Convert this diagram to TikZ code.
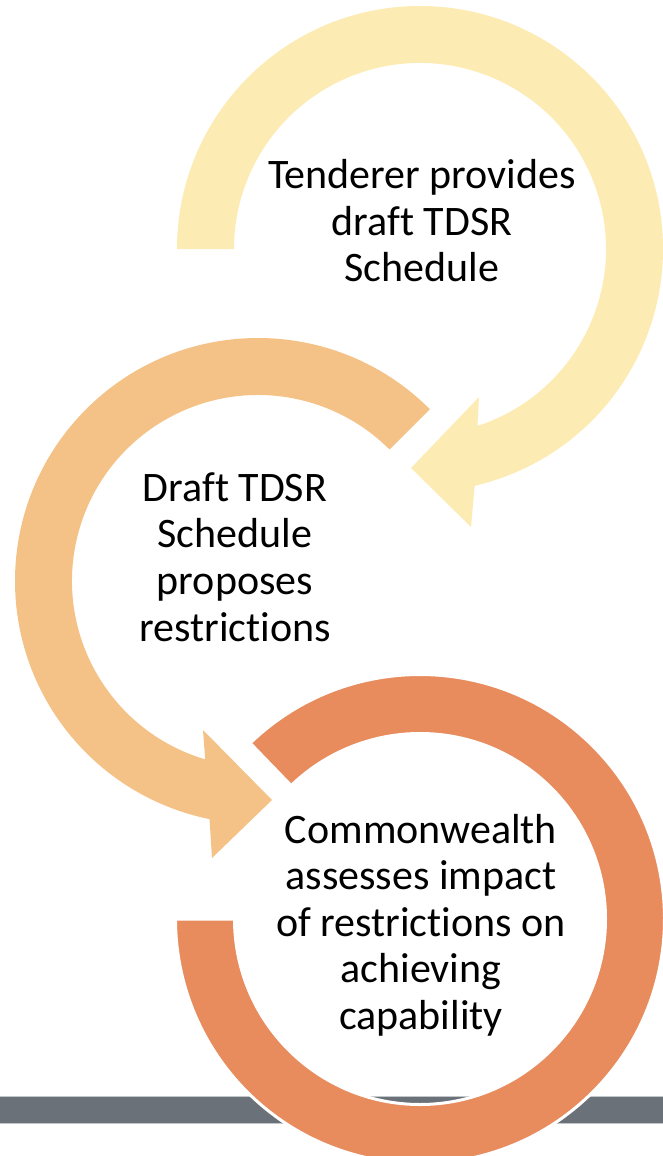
\documentclass[tikz,border=0pt]{standalone}
\usepackage{fontspec}
\setmainfont{Carlito}[Ligatures=NoCommon]
\usepackage{tikz}
\definecolor{stepYellow}{RGB}{253, 235, 180}
\definecolor{stepOrange}{RGB}{244, 194, 135}
\definecolor{stepRust}{RGB}{232, 140, 94}
\definecolor{barGrey}{RGB}{107, 113, 121}
\definecolor{barEdge}{RGB}{196, 199, 202}

\begin{document}
\begin{tikzpicture}[x=1pt, y=1pt,
    steptext/.style={align=center, font=\fontsize{42}{46.5}\selectfont, inner sep=0pt}]
            \useasboundingbox (0,0) rectangle (663,-1156);
            \coordinate (Y) at (420,-249);
            \coordinate (O) at (258,-581);
            \coordinate (R) at (420,-919);

            % grey bar behind the last ring
            \fill[barGrey] (0,-1097) rectangle (663,-1123);
            \draw[barEdge, line width=1] (0,-1096.5) -- (663,-1096.5) (0,-1123.5) -- (663,-1123.5);

            \fill[stepYellow] ([shift={(180:243)}]Y) arc[start angle=180, end angle=-77, radius=243]
                -- (471,-527) -- (411,-468) -- (479,-397)
                -- ([shift={(-72:186)}]Y) arc[start angle=-72, end angle=180, radius=186] -- cycle;
            \fill[stepOrange] ([shift={(45:243)}]O) arc[start angle=45, end angle=258.5, radius=243]
                -- (212,-858) -- (272,-800) -- (203,-730)
                -- ([shift={(253.5:186)}]O) arc[start angle=253.5, end angle=45, radius=186] -- cycle;
            \filldraw[fill=stepRust, draw=white, line width=3] ([shift={(134:244.5)}]R) arc[start angle=134, end angle=-180, radius=244.5]
                -- ([shift={(180:185.5)}]R) arc[start angle=-180, end angle=134, radius=185.5] -- cycle;

            \node[steptext] (tender) at (422,-221) {Tenderer provides\\draft TDSR\\Schedule};
            \node[steptext] (draft) at (235,-557) {Draft TDSR\\Schedule\\proposes\\restrictions};
            \node[steptext] (assess) at (421,-925) {Commonwealth\\assesses impact\\of restrictions on\\achieving\\capability};
        \end{tikzpicture}
\end{document}
